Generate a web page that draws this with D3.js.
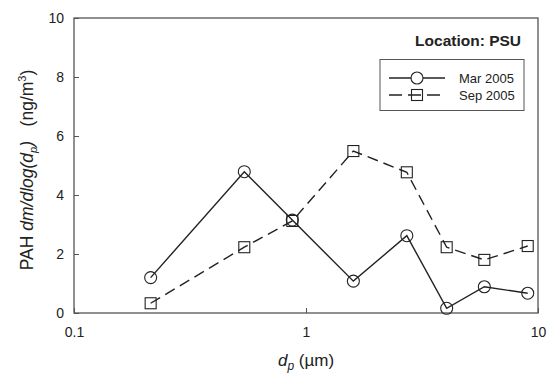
<!DOCTYPE html>
<html>
<head>
<meta charset="UTF-8">
<script src="https://cdn.jsdelivr.net/npm/d3@7"></script>
<style>
  body { margin: 0; background: #fff; }
  text { font-family: "Liberation Sans", Arial, sans-serif; fill: #222; }
</style>
</head>
<body>
<script>
  // particle diameter (um) for each impactor stage
  var diam = [0.214, 0.542, 0.873, 1.6, 2.72, 4.04, 5.87, 9.03];
  var mar2005 = [1.2, 4.79, 3.15, 1.08, 2.62, 0.16, 0.89, 0.67];
  var sep2005 = [0.33, 2.23, 3.12, 5.49, 4.77, 2.23, 1.8, 2.27];
  var seriesNames = ["Mar 2005", "Sep 2005"];
  var yTicks = [0, 2, 4, 6, 8, 10];
  var xTicks = [0.1, 1, 10];

  var width = 547, height = 373;
  var margin = {left: 74, right: 9, top: 18, bottom: 60};

  var svg = d3.select("body").append("svg")
    .attr("width", width)
    .attr("height", height);

  var x = d3.scaleLog().domain([0.1, 10]).range([margin.left, width - margin.right]);
  var y = d3.scaleLinear().domain([0, 10]).range([height - margin.bottom, margin.top]);

  var axisColor = "#555";

  // frame
  svg.append("rect")
    .attr("x", x(0.1)).attr("y", y(10))
    .attr("width", x(10) - x(0.1)).attr("height", y(0) - y(10))
    .attr("fill", "none").attr("stroke", axisColor).attr("stroke-width", 1.3);

  var yAxis = svg.append("g")
    .attr("transform", `translate(${x(0.1)},0)`)
    .call(d3.axisLeft(y).tickValues(yTicks).tickSizeInner(-5).tickSizeOuter(0).tickPadding(10));
  yAxis.select(".domain").remove();
  yAxis.selectAll("line").attr("stroke", axisColor);
  yAxis.selectAll("text").style("font-size", "14px").attr("fill", "#222");

  var xAxis = svg.append("g")
    .attr("transform", `translate(0,${y(0)})`)
    .call(d3.axisBottom(x).tickValues(xTicks).tickFormat(d3.format("")).tickSizeInner(-5).tickSizeOuter(0).tickPadding(14));
  xAxis.select(".domain").remove();
  xAxis.selectAll("line").attr("stroke", axisColor);
  xAxis.selectAll("text").style("font-size", "14px").attr("fill", "#222");

  var line = d3.line()
    .x((d, i) => x(diam[i]))
    .y(d => y(d));

  var lineColor = "#222";

  svg.append("path")
    .datum(mar2005)
    .attr("d", line)
    .attr("fill", "none").attr("stroke", lineColor).attr("stroke-width", 1.4);

  svg.append("path")
    .datum(sep2005)
    .attr("d", line)
    .attr("fill", "none").attr("stroke", lineColor).attr("stroke-width", 1.4)
    .attr("stroke-dasharray", "11,6");

  svg.append("g").selectAll("circle")
    .data(mar2005)
    .enter().append("circle")
    .attr("cx", (d, i) => x(diam[i]))
    .attr("cy", d => y(d))
    .attr("r", 6)
    .attr("fill", "none").attr("stroke", lineColor).attr("stroke-width", 1.1);

  svg.append("g").selectAll("rect")
    .data(sep2005)
    .enter().append("rect")
    .attr("x", (d, i) => x(diam[i]) - 5.5)
    .attr("y", d => y(d) - 5.5)
    .attr("width", 11).attr("height", 11)
    .attr("fill", "none").attr("stroke", lineColor).attr("stroke-width", 1.1);

  // location note
  svg.append("text")
    .attr("x", 521).attr("y", 46)
    .attr("text-anchor", "end")
    .style("font-size", "15.5px").style("font-weight", "bold")
    .text("Location: PSU");

  // legend
  var lg = svg.append("g");
  lg.append("rect")
    .attr("x", 380).attr("y", 59.5).attr("width", 144).attr("height", 51)
    .attr("fill", "none").attr("stroke", axisColor).attr("stroke-width", 1);

  seriesNames.forEach(function(name, i) {
    var ly = 78 + i * 17;
    lg.append("line")
      .attr("x1", 389).attr("x2", 445).attr("y1", ly).attr("y2", ly)
      .attr("stroke", lineColor).attr("stroke-width", 1.4)
      .attr("stroke-dasharray", i === 0 ? null : "13,6");
    if (i === 0) {
      lg.append("circle").attr("cx", 417).attr("cy", ly).attr("r", 6)
        .attr("fill", "#fff").attr("stroke", lineColor).attr("stroke-width", 1.1);
    } else {
      lg.append("rect").attr("x", 411.5).attr("y", ly - 5.5).attr("width", 11).attr("height", 11)
        .attr("fill", "none").attr("stroke", lineColor).attr("stroke-width", 1.1);
    }
    lg.append("text")
      .attr("x", 459).attr("y", ly + 5)
      .style("font-size", "13px")
      .text(name);
  });

  // y label
  var yl = svg.append("text")
    .attr("transform", `translate(33,170) rotate(-90)`)
    .attr("text-anchor", "middle")
    .style("font-size", "17.5px");
  yl.append("tspan").text("PAH ");
  yl.append("tspan").style("font-style", "italic").text("dm/dlog(d");
  yl.append("tspan").style("font-style", "italic").style("font-size", "11px").attr("dy", 4).text("p");
  yl.append("tspan").style("font-style", "italic").attr("dy", -4).text(")");
  yl.append("tspan").text("\u00a0\u00a0\u00a0(ng/m");
  yl.append("tspan").style("font-size", "11px").attr("dy", -7).text("3");
  yl.append("tspan").attr("dy", 7).text(")");

  // x label
  var xl = svg.append("text")
    .attr("x", x(1)).attr("y", 366)
    .attr("text-anchor", "middle")
    .style("font-size", "17px");
  xl.append("tspan").style("font-style", "italic").text("d");
  xl.append("tspan").style("font-style", "italic").style("font-size", "12px").attr("dy", 4).text("p");
  xl.append("tspan").attr("dy", -4).text(" (\u00b5m)");
</script>
</body>
</html>
